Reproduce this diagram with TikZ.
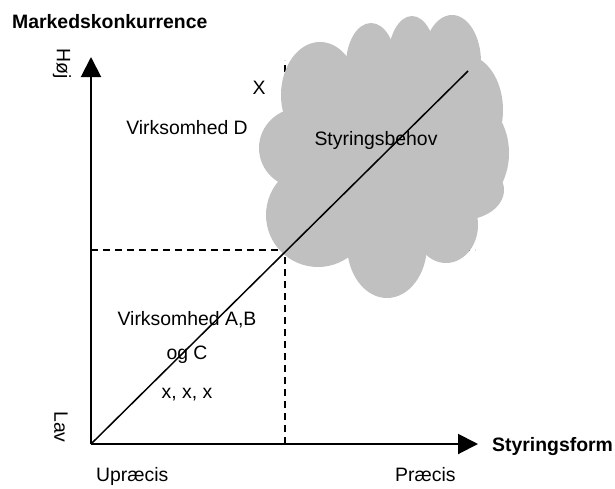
\documentclass[tikz,border=0pt]{standalone}
\usepackage{fontspec}
\setmainfont{Liberation Sans}
\usetikzlibrary{arrows.meta}
\definecolor{cloudgrey}{RGB}{192,192,192}
\begin{document}
\begin{tikzpicture}
  [x=1pt,y=-1pt,every node/.style={inner sep=0pt,font=\fontsize{19.4}{34}\selectfont},
   axis/.style={line width=2pt,-{Triangle[length=20pt,width=20pt]}},
   guide/.style={line width=1.5pt,dash pattern=on 7pt off 5pt},
   puff/.style={fill=cloudgrey}]
  \useasboundingbox (0,0) rectangle (615,488);
  \coordinate (o) at (91,444);
  \coordinate (ytop) at (91,57);
  \coordinate (xend) at (478,444);
  \coordinate (hstart) at (91,250);
  \coordinate (hend) at (475,250);
  \coordinate (vbot) at (285,444);
  \coordinate (vtop) at (285,60);
  \coordinate (dend) at (468,71);

  % guide lines, partly hidden by the cloud
  \draw[guide] (hstart) -- (hend);
  \draw[guide] (vbot) -- (vtop);

  % cloud
  \foreach \cx/\cy/\rx/\ry in {320/95/39/53,371/65/25/42,412/60/24/44,452/62/29/47,465/110/38/55,459/153/50/60,462/190/42/30,446/225/32/38,387/245/40/53,318/215/52/52,300/148/41/40,385/150/95/100}
    \fill[puff] (\cx,\cy) ellipse [x radius=\rx, y radius=\ry];

  \draw[axis] (o) -- (ytop);
  \draw[axis] (o) -- (xend);
  \draw[line width=1.5pt] (o) -- (dend);

  \node[anchor=base west] (title) at (12,28) {\bfseries Markedskonkurrence};
  \node[rotate=-90] (hoej) at (62,63.5) {Høj};
  \node[rotate=-90] (lav) at (61,427) {Lav};
  \node (xmark) at (259,87.5) {X};
  \node[anchor=base] (firmd) at (187,134) {Virksomhed D};
  \node[anchor=base] (need) at (376,145) {Styringsbehov};
  \node[anchor=base,align=center] (firmabc) at (187,359) {Virksomhed A,B\\og C};
  \node[anchor=base] (firmx) at (187,398) {x, x, x};
  \node[anchor=base west] (upr) at (96,481) {Upræcis};
  \node[anchor=base west] (pr) at (395,481) {Præcis};
  \node[anchor=base west] (xlabel) at (492,451) {\bfseries Styringsform};
\end{tikzpicture}
\end{document}
